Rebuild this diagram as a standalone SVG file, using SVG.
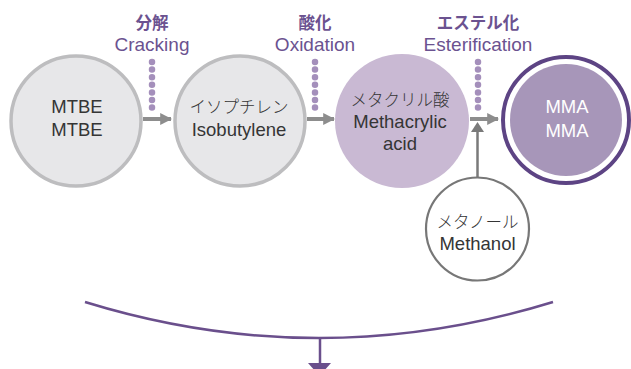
<svg xmlns="http://www.w3.org/2000/svg" width="631" height="369" viewBox="0 0 631 369">
<defs>
<style>
text{font-family:"Liberation Sans","Noto Sans CJK JP",sans-serif;text-anchor:middle}
.t{font-size:18.5px;fill:#353535}
.j{font-family:"Noto Sans CJK JP",sans-serif;font-size:16.5px;font-weight:300;fill:#353535}
.w{font-size:18.5px;fill:#fff}
.lb{font-size:19px;fill:#6b5290}
.lj{font-family:"Noto Sans CJK JP",sans-serif;font-size:16.5px;fill:#6b5290;font-weight:bold}
.gray{fill:#e7e7e9;stroke:#bdbdbf;stroke-width:3.5}
.arr{stroke:#8d8d8d;stroke-width:4;fill:none}
.dots{stroke:#a48fbb;stroke-width:6.5;stroke-linecap:round;stroke-dasharray:0 7.6;fill:none}
</style>
<marker id="ah" viewBox="0 0 10 10" refX="9" refY="5" markerWidth="3" markerHeight="4.5" markerUnits="strokeWidth" orient="auto">
<path d="M0,0L10,5L0,10Z" fill="#8d8d8d"/>
</marker>
</defs>
<rect width="631" height="369" fill="#fff"/>
<g id="connectors">
<line class="arr" x1="143" y1="119" x2="171" y2="119" marker-end="url(#ah)"/>
<line class="arr" x1="307" y1="119" x2="334" y2="119" marker-end="url(#ah)"/>
<line class="arr" x1="470" y1="119" x2="498" y2="119" marker-end="url(#ah)"/>
<line x1="477.5" y1="177" x2="477.5" y2="126" stroke="#7a7a7a" stroke-width="2.5"/>
<path d="M477.5,122L471,132L484,132Z" fill="#7a7a7a"/>
<path class="dots" d="M152,62V108"/>
<path class="dots" d="M315,62V108"/>
<path class="dots" d="M478,62V108"/>
<path d="M85,302Q319,374 553,302" fill="none" stroke="#6a4f8c" stroke-width="2.5"/>
<line x1="320" y1="338" x2="320" y2="364" stroke="#6a4f8c" stroke-width="2.5"/>
<path d="M308,363L331,363L319.5,376Z" fill="#6a4f8c"/>
</g>
<g id="label-cracking">
<text class="lj" x="152" y="29">分解</text>
<text class="lb" x="152" y="51">Cracking</text>
</g>
<g id="label-oxidation">
<text class="lj" x="315" y="29">酸化</text>
<text class="lb" x="315" y="51">Oxidation</text>
</g>
<g id="label-esterification">
<text class="lj" x="478" y="29">エステル化</text>
<text class="lb" x="478" y="51">Esterification</text>
</g>
<g id="node-mtbe">
<circle class="gray" cx="76" cy="121" r="65"/>
<text class="t" x="77" y="113">MTBE</text>
<text class="t" x="77" y="136">MTBE</text>
</g>
<g id="node-isobutylene">
<circle class="gray" cx="240" cy="121" r="65"/>
<text class="j" x="239" y="113">イソプチレン</text>
<text class="t" x="239" y="136">Isobutylene</text>
</g>
<g id="node-methacrylic">
<circle cx="402" cy="121" r="67" fill="#c9b9d3"/>
<text class="j" x="400" y="106">メタクリル酸</text>
<text class="t" x="400" y="128">Methacrylic</text>
<text class="t" x="400" y="150">acid</text>
</g>
<g id="node-mma">
<circle cx="566" cy="120" r="63" fill="none" stroke="#5d4484" stroke-width="4"/>
<circle cx="566" cy="120" r="56" fill="#a796b9"/>
<text class="w" x="567" y="113">MMA</text>
<text class="w" x="567" y="137">MMA</text>
</g>
<g id="node-methanol">
<circle cx="477.5" cy="229" r="51.5" fill="#fff" stroke="#777" stroke-width="2.2"/>
<text class="j" x="477.5" y="228">メタノール</text>
<text class="t" x="477.5" y="250">Methanol</text>
</g>
</svg>
